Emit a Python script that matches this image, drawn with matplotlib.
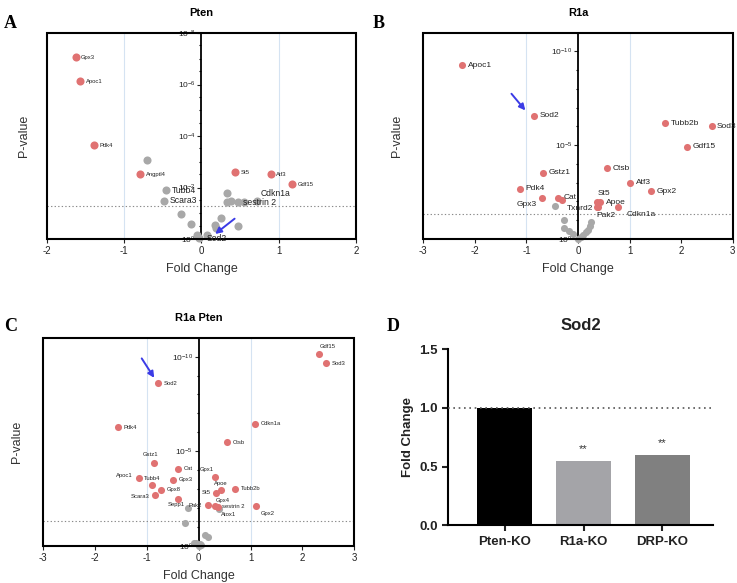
import matplotlib
matplotlib.use('Agg')
import matplotlib.pyplot as plt
from matplotlib.patches import Rectangle
from matplotlib.transforms import offset_copy
from matplotlib.ticker import LogLocator, LogFormatterSciNotation, NullFormatter, FormatStrFormatter

plt.rcParams['font.family'] = ['Liberation Sans', 'DejaVu Sans']
plt.rcParams['axes.unicode_minus'] = False
plt.rcParams['mathtext.default'] = 'regular'

# ---------------- data ----------------
# A: Pten
pten_genes = ['Gpx3', 'Apoc1', 'Pdk4', 'Angptl4', 'St5', 'Atf3', 'Gdf15']
pten_fc = [-1.63, -1.57, -1.39, -0.79, 0.44, 0.90, 1.17]
pten_p = [8.7e-8, 7.4e-7, 2.3e-4, 3.1e-3, 2.5e-3, 3.1e-3, 7.6e-3]
pten_ns_genes = ['Tubb4', 'Scara3', 'Cdkn1a', 'sestrin 2', 'Sod2']
pten_ns_fc = [-0.46, -0.48, 0.33, 0.47, 0.07]
pten_ns_p = [1.3e-2, 3.2e-2, 1.7e-2, 3.7e-2, 0.72]
pten_other_fc = [-0.71, -0.27, -0.14, -0.06, -0.03, 0.18, 0.25, 0.19, 0.47, 0.38, 0.55, 0.72, 0.33]
pten_other_p = [8.7e-4, 0.11, 0.25, 0.72, 0.91, 0.28, 0.15, 0.38, 0.31, 0.034, 0.035, 0.034, 0.035]

# B: R1a
r1a_genes = ['Apoc1', 'Sod2', 'Tubb2b', 'Sod3', 'Gdf15', 'Ctsb', 'Gstz1', 'Atf3', 'Pdk4',
             'Gpx2', 'Gpx3', 'Cat', '', 'St5', 'Apoe', 'Txnrd2', 'Pak2', 'Cdkn1a']
r1a_fc = [-2.25, -0.86, 1.69, 2.59, 2.11, 0.56, -0.67, 1.01, -1.13,
          1.41, -0.70, -0.39, -0.32, 0.36, 0.43, 0.37, 0.38, 0.78]
r1a_p = [5.4e-10, 2.8e-7, 6.8e-7, 9.8e-7, 1.2e-5, 1.7e-4, 3.1e-4, 1.0e-3, 2.1e-3,
         3.0e-3, 6.6e-3, 6.6e-3, 8.7e-3, 1.1e-2, 1.1e-2, 2.0e-2, 2.1e-2, 2.1e-2]
r1a_other_fc = [-0.44, -0.27, -0.28, -0.18, -0.10, 0.0, 0.05, 0.10, 0.16, 0.20, 0.23, 0.26]
r1a_other_p = [1.7e-2, 9.8e-2, 0.28, 0.39, 0.55, 1.0, 0.8, 0.63, 0.45, 0.35, 0.2, 0.13]

# C: R1a Pten
dko_genes = ['Gdf15', 'Sod3', 'Sod2', 'Pdk4', 'Cdkn1a', 'Ctsb', 'Gstz1', 'Cat', 'Gpx1',
             'Apoc1', 'Gpx3', 'Tubb4', 'Apoe', 'Tubb2b', 'St5', 'Gpx8', 'Scara3', 'Sepp1',
             'Pak2', 'Gpx4', 'sestrin 2', 'Gpx2']
dko_fc = [2.32, 2.46, -0.78, -1.56, 1.09, 0.54, -0.87, -0.40, 0.32,
          -1.16, -0.50, -0.91, 0.43, 0.70, 0.34, -0.72, -0.85, -0.40,
          0.17, 0.31, 0.37, 1.11]
dko_p = [6.9e-11, 2.2e-10, 2.6e-9, 5.5e-7, 3.5e-7, 3.4e-6, 4.1e-5, 8.5e-5, 2.2e-4,
         2.6e-4, 3.1e-4, 6.2e-4, 1.1e-3, 9.5e-4, 1.5e-3, 1.1e-3, 2.0e-3, 3.2e-3,
         7.2e-3, 7.8e-3, 8.5e-3, 7.8e-3]
dko_ns_genes = ['Atox1']
dko_ns_fc = [0.39]
dko_ns_p = [1.1e-2]
dko_other_fc = [-0.21, -0.26, 0.11, 0.17, -0.05, 0.02, -0.10, 0.0, 0.04]
dko_other_p = [1.0e-2, 6.2e-2, 0.26, 0.32, 0.72, 0.8, 0.66, 0.95, 0.89]

# D: Sod2 bars
groups = ['Pten-KO', 'R1a-KO', 'DRP-KO']
sod2_fc = [1.0, 0.55, 0.595]
sod2_sig = ['', '**', '**']

# ---------------- style ----------------
RED = '#e07272'
GREY = '#a8a8a8'
TXT = '#222222'

# label offsets in points: gene -> (dx, dy, ha)
off_a = {'Cdkn1a': (24, 0, 'left'), 'Sod2': (0, -2, 'left')}
off_b = {'Gpx3': (-4, -5, 'right'), 'St5': (5, 6, 'center'), 'Txnrd2': (-3, -1, 'right'),
         'Pak2': (-1, -6, 'left'), 'Cdkn1a': (6, -5, 'left')}
off_c = {'Gdf15': (6, 5, 'center'), 'Gstz1': (-2, 6, 'center'), 'Gpx1': (-6, 5, 'center'),
         'Apoc1': (-4, 2, 'right'), 'Tubb4': (0, 5, 'center'), 'Apoe': (0, 5, 'center'),
         'St5': (-4, 0, 'right'), 'Scara3': (-4, -1, 'right'), 'Sepp1': (-1, -4, 'center'),
         'Pak2': (-4, 0, 'right'), 'Gpx4': (6, 4, 'center'), 'sestrin 2': (3, 0, 'left'),
         'Gpx2': (8, -5, 'center'), 'Atox1': (7, -4, 'center')}

fig = plt.figure(figsize=(7.37, 5.83), dpi=100)


def label_points(ax, genes, fc, p, offsets, size):
    for g, x, y in zip(genes, fc, p):
        if not g:
            continue
        dx, dy, ha = offsets.get(g, (4, 0, 'left'))
        ax.annotate(g, (x, y), xytext=(dx, dy), textcoords='offset points',
                    ha=ha, va='center', fontsize=size, color=TXT, zorder=5)


def volcano(ax, title, xlim, ytop, majors, minors, ms):
    ax.set_yscale('log')
    ax.set_xlim(-xlim, xlim)
    ax.set_ylim(1, ytop)
    ax.axvline(-1, color='#d5e3f2', lw=0.8, zorder=0)
    ax.axvline(1, color='#d5e3f2', lw=0.8, zorder=0)
    ax.axhline(0.05, color='#8a8a8a', lw=0.8, ls=(0, (1.2, 2.0)), zorder=0)
    for s in ['top', 'right', 'bottom']:
        ax.spines[s].set_visible(False)
    ax.spines['left'].set_position(('data', 0))
    ax.spines['left'].set_linewidth(1.3)
    ax.add_patch(Rectangle((0, 0), 1, 1, transform=ax.transAxes, fill=False,
                           lw=1.5, ec='black', clip_on=False, zorder=4))
    ax.yaxis.set_major_locator(LogLocator(base=10, subs=(1.0,), numticks=30))
    ax.yaxis.set_major_formatter(LogFormatterSciNotation())
    ax.yaxis.set_minor_locator(LogLocator(base=10, subs=minors, numticks=30))
    ax.yaxis.set_minor_formatter(NullFormatter())
    ax.set_yticks(majors)
    ax.tick_params(axis='y', which='major', labelsize=6, length=3, width=0.8,
                   pad=1, colors=TXT)
    ax.tick_params(axis='y', which='minor', length=1.5, width=0.8)
    ax.set_xticks(range(-xlim, xlim + 1))
    ax.tick_params(axis='x', labelsize=7, length=3, width=0.8, colors=TXT, pad=2)
    ax.set_xlabel('Fold Change', fontsize=9, color='#333333', labelpad=5)
    ax.set_ylabel('P-value', fontsize=9, color='#333333')
    ax.set_title(title, fontsize=8, fontweight='bold', pad=12)


def add_arrow(ax, x, y, tip, tail):
    tip_tr = offset_copy(ax.transData, fig=fig, x=tip[0], y=tip[1], units='points')
    tail_tr = offset_copy(ax.transData, fig=fig, x=tail[0], y=tail[1], units='points')
    ax.annotate('', xy=(x, y), xycoords=tip_tr, xytext=(x, y), textcoords=tail_tr,
                arrowprops=dict(arrowstyle='-|>', color='#3b3be6', lw=1.4,
                                mutation_scale=9, shrinkA=0, shrinkB=0), zorder=6)


# ---- A ----
axA = fig.add_axes([0.0638, 0.590, 0.419, 0.3534])
volcano(axA, 'Pten', 2, 1e-8, [1e-8, 1e-6, 1e-4, 1e-2, 1], (1.0, 3.0), 34)
axA.scatter(pten_other_fc, pten_other_p, s=34, color=GREY, zorder=3, clip_on=False, lw=0)
axA.scatter(pten_ns_fc, pten_ns_p, s=34, color=GREY, zorder=3, clip_on=False, lw=0)
axA.scatter(pten_fc, pten_p, s=34, color=RED, zorder=3, clip_on=False, lw=0)
label_points(axA, pten_genes, pten_fc, pten_p, off_a, 4.2)
label_points(axA, pten_ns_genes, pten_ns_fc, pten_ns_p, off_a, 6.2)
i = pten_ns_genes.index('Sod2')
add_arrow(axA, pten_ns_fc[i], pten_ns_p[i], (6, 1), (20, 12))
axA.yaxis.set_label_coords(-0.055, 0.5)

# ---- B ----
axB = fig.add_axes([0.5744, 0.5906, 0.4198, 0.3533])
volcano(axB, 'R1a', 3, 1e-11, [1e-10, 1e-5, 1], (1.0,), 26)
axB.scatter(r1a_other_fc, r1a_other_p, s=26, color=GREY, zorder=3, clip_on=False, lw=0)
axB.scatter(r1a_fc, r1a_p, s=26, color=RED, zorder=3, clip_on=False, lw=0)
label_points(axB, r1a_genes, r1a_fc, r1a_p, off_b, 6)
i = r1a_genes.index('Sod2')
add_arrow(axB, r1a_fc[i], r1a_p[i], (-6, 4), (-16, 16))
axB.yaxis.set_label_coords(-0.066, 0.5)

# ---- C ----
axC = fig.add_axes([0.0588, 0.0635, 0.4219, 0.3573])
volcano(axC, 'R1a Pten', 3, 1e-11, [1e-10, 1e-5, 1], (1.0,), 26)
axC.scatter(dko_other_fc, dko_other_p, s=26, color=GREY, zorder=3, clip_on=False, lw=0)
axC.scatter(dko_ns_fc, dko_ns_p, s=26, color=GREY, zorder=3, clip_on=False, lw=0)
axC.scatter(dko_fc, dko_p, s=26, color=RED, zorder=3, clip_on=False, lw=0)
label_points(axC, dko_genes, dko_fc, dko_p, off_c, 4.2)
label_points(axC, dko_ns_genes, dko_ns_fc, dko_ns_p, off_c, 4.2)
i = dko_genes.index('Sod2')
add_arrow(axC, dko_fc[i], dko_p[i], (-3, 4), (-12, 18))
axC.yaxis.set_label_coords(-0.065, 0.5)

# ---- D ----
axD = fig.add_axes([0.6083, 0.099, 0.359, 0.3019])
xs = range(len(groups))
axD.bar(xs, sod2_fc, width=0.7, color=['#000000', '#a4a4a8', '#808080'], zorder=2)
axD.axhline(1.0, color='#555555', lw=1.2, ls=(0, (1, 2.2)), zorder=3)
for x, v, s in zip(xs, sod2_fc, sod2_sig):
    if s:
        axD.annotate(s, (x, v), xytext=(0, 5), textcoords='offset points',
                     ha='center', va='bottom', fontsize=8, color='#333333')
axD.set_xlim(-0.714, 2.64)
axD.set_ylim(0, 1.5)
axD.set_yticks([0.0, 0.5, 1.0, 1.5])
axD.yaxis.set_major_formatter(FormatStrFormatter('%.1f'))
axD.set_xticks(list(xs))
axD.set_xticklabels(groups)
for s in ['top', 'right']:
    axD.spines[s].set_visible(False)
for s in ['left', 'bottom']:
    axD.spines[s].set_linewidth(1.5)
axD.tick_params(length=4, width=1.5, labelsize=9.5, colors='#222222')
for t in axD.get_xticklabels() + axD.get_yticklabels():
    t.set_fontweight('bold')
axD.set_ylabel('Fold Change', fontsize=9.5, fontweight='bold', color='#222222')
axD.set_title('Sod2', fontsize=12, fontweight='bold', pad=14, color='#222222')

# panel letters
for lx, ly, letter in [(0.005, 0.975, 'A'), (0.506, 0.975, 'B'), (0.005, 0.455, 'C'), (0.524, 0.455, 'D')]:
    fig.text(lx, ly, letter, fontsize=13, fontweight='bold', family='Liberation Serif',
             va='top', ha='left')

fig.savefig('out.png', dpi=100)
